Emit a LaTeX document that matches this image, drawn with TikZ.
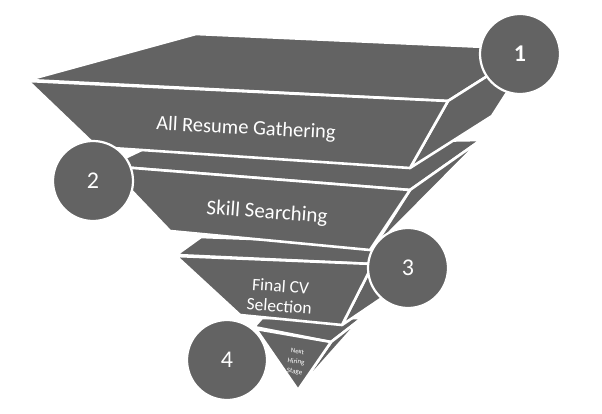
\documentclass[tikz,border=0pt]{standalone}
\usepackage{fontspec}
\setmainfont{Carlito}
\definecolor{fcol}{RGB}{99,99,99}
\begin{document}
\begin{tikzpicture}[x=1pt,y=-1pt,
  face/.style={fill=fcol,draw=white,line width=2.6pt,line join=round},
  badge/.style={circle,fill=fcol,draw=white,line width=2.2pt,minimum size=80pt,inner sep=0pt,text=white,font=\fontsize{24}{24}\selectfont},
  label/.style={text=white,align=center,inner sep=0pt}]
\useasboundingbox (0,0) rectangle (602,414);
% tier 4
\draw[face] (254,327) -- (262,318) -- (362,318) -- (331,342) -- cycle;
\draw[face] (331,342) -- (362,318) -- (298,390) -- cycle;
\draw[face] (256,329) -- (331,342) -- (298,390) -- cycle;
% tier 3
\draw[face] (176,255) -- (201,237) -- (440,246) -- (373,264) -- cycle;
\draw[face] (373,264) -- (440,248) -- (422,271) -- (342,325) -- cycle;
\draw[face] (176,256) -- (373,264) -- (342,325) -- (240,315) -- cycle;
% tier 2
\draw[face] (108,166) -- (150,146) -- (481,140) -- (410,190) -- cycle;
\draw[face] (410,190) -- (481,140) -- (372,250) -- cycle;
\draw[face] (108,166) -- (410,190) -- (370,250) -- (170,231) -- cycle;
% tier 1
\draw[face] (28,80) -- (196,34) -- (530,49) -- (448,101) -- cycle;
\draw[face] (448,101) -- (530,49) -- (524,66) -- (492,116) -- (410,168) -- cycle;
\draw[face] (28,81) -- (448,101) -- (410,168) -- (97,147) -- cycle;
% labels
\node[label,rotate=-3,font=\fontsize{20.5}{22}\selectfont] (t1) at (246,129) {All Resume Gathering};
\node[label,rotate=-4,font=\fontsize{21}{22}\selectfont] (t2) at (267,213) {Skill Searching};
\node[label,rotate=-4,font=\fontsize{17.5}{20}\selectfont] (t3) at (280,296) {Final CV\\Selection};
\node[label,rotate=-8,font=\fontsize{7}{10}\selectfont] (t4) at (296,362) {Next\\Hiring\\Stage};
% badges
\node[badge,font=\fontsize{24}{24}\bfseries] (n1) at (520,54) {1};
\node[badge] (n2) at (93,181) {2};
\node[badge] (n3) at (408,268) {3};
\node[badge] (n4) at (227,360) {4};
\end{tikzpicture}
\end{document}
